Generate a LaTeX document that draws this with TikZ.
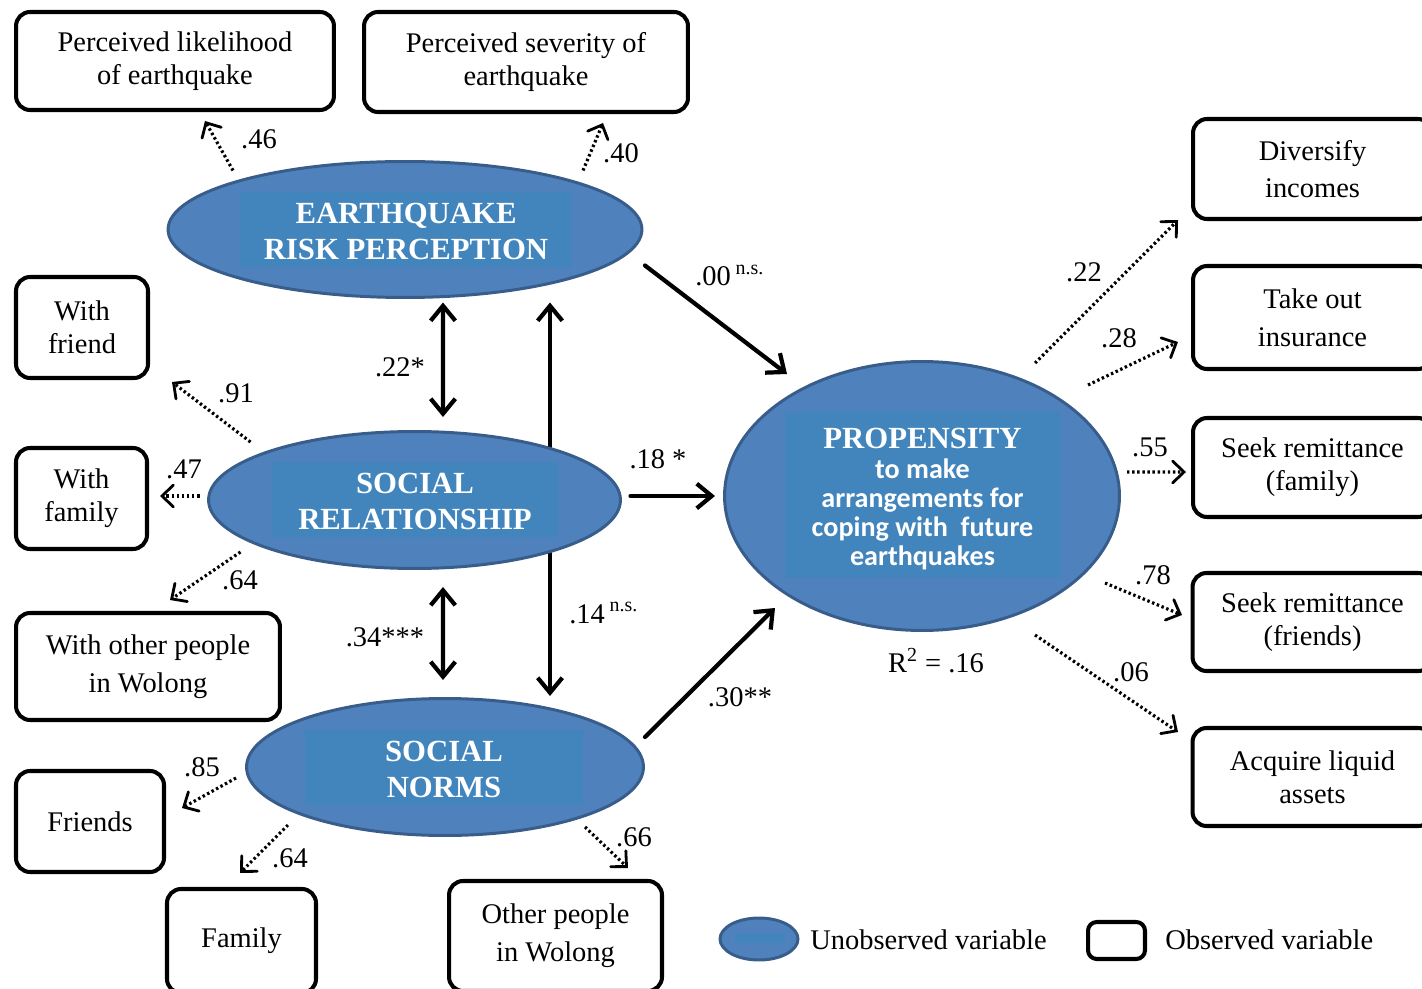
\documentclass[tikz,border=0pt]{standalone}
\usepackage{fontspec}
\setmainfont{Liberation Serif}
\newfontfamily\calfont{Carlito}
\usetikzlibrary{shapes.geometric,arrows.meta,calc}
\pgfdeclarelayer{background}
\pgfsetlayers{background,main}
\definecolor{latfill}{RGB}{79,129,189}
\definecolor{latedge}{RGB}{56,93,138}
\definecolor{latinner}{RGB}{66,133,188}
\newcommand\txt{\fontsize{16.2pt}{18.7pt}\selectfont}
\newcommand\hdr{\fontsize{17.5pt}{20.2pt}\selectfont\bfseries}
\newcommand\propfont{\calfont\bfseries\fontsize{16pt}{16.4pt}\selectfont}
\newcommand\hstrut{\rule{0pt}{14pt}}
\begin{document}
\begin{tikzpicture}[x=0.02cm,y=-0.02cm,
  obs/.style={draw, line width=2.3pt, rounded corners=8pt, align=center, font=\txt, inner sep=0pt},
  lat/.style={ellipse, draw=latedge, fill=latfill, line width=1.7pt, inner sep=0pt},
  inbox/.style={rectangle, fill=latinner, text=white, align=center, font=\hdr, inner sep=0pt},
  solidarr/.style={-{Straight Barb[length=8.5pt,width=14pt]}, line width=2.4pt, line cap=round, line join=round},
  dblarr/.style={{Straight Barb[length=8.5pt,width=14pt]}-{Straight Barb[length=8.5pt,width=14pt]}, line width=2.4pt, line cap=round, line join=round},
  dotarr/.style={-{Straight Barb[length=6.5pt,width=12.5pt,line width=1.6pt,line cap=round]}, line width=1.8pt, line cap=butt, line join=round, dash pattern=on 1.4pt off 1.5pt},
  coef/.style={font=\txt, inner sep=0pt}
]
\useasboundingbox (0,0) rectangle (1422,989);

% observed variables
\node[obs, minimum width=6.36cm, minimum height=1.96cm] (pl) at (175,61) {Perceived likelihood\\of earthquake};
\node[obs, minimum width=6.48cm, minimum height=2.00cm] (ps) at (526,62) {Perceived severity of\\earthquake};
\node[obs, minimum width=2.64cm, minimum height=2.02cm] (wf) at (82,327.5) {With\\friend};
\node[obs, minimum width=2.62cm, minimum height=2.02cm] (wfa) at (81.5,498.5) {With\\family};
\node[obs, minimum width=5.28cm, minimum height=2.14cm] (wo) at (148,666.5) {With other people\\[3pt]in Wolong};
\node[obs, minimum width=2.96cm, minimum height=2.02cm] (fr) at (90,821.5) {Friends};
\node[obs, minimum width=2.98cm, minimum height=2.08cm] (fam) at (241.5,941) {Family};
\node[obs, minimum width=4.26cm, minimum height=2.20cm] (oth) at (555.5,936) {Other people\\[3pt]in Wolong};
\node[obs, minimum width=4.78cm, minimum height=2.00cm] (div) at (1312.5,169) {Diversify\\[2pt]incomes};
\node[obs, minimum width=4.78cm, minimum height=2.06cm] (ins) at (1312.5,317.5) {Take out\\[3pt]insurance};
\node[obs, minimum width=4.78cm, minimum height=1.98cm] (sfa) at (1312.5,467.5) {Seek remittance\\(family)};
\node[obs, minimum width=4.80cm, minimum height=1.96cm] (sfr) at (1312.5,622) {Seek remittance\\(friends)};
\node[obs, minimum width=4.80cm, minimum height=1.96cm] (acq) at (1312.5,777) {Acquire liquid\\assets};

% latent variables
\node[lat, minimum width=9.48cm, minimum height=2.72cm] (erp) at (405,229.5) {};
\node[inbox, minimum width=6.64cm, minimum height=1.50cm] (erpt) at (406,229.5) {\hstrut EARTHQUAKE\\RISK PERCEPTION};
\node[lat, minimum width=8.24cm, minimum height=2.74cm] (sr) at (414.5,500) {};
\node[inbox, minimum width=5.72cm, minimum height=1.50cm] (srt) at (415,499.5) {\hstrut SOCIAL\\RELATIONSHIP};
\node[lat, minimum width=7.94cm, minimum height=2.74cm] (sn) at (445,767) {};
\node[inbox, minimum width=5.56cm, minimum height=1.50cm] (snt) at (444,767.5) {\hstrut SOCIAL\\NORMS};
\node[lat, minimum width=7.90cm, minimum height=5.38cm] (prop) at (922,496) {};
\node[inbox, minimum width=5.50cm, minimum height=3.32cm, font=\propfont] (propt) at (922.5,495)
  {{\rmfamily\hdr\rule{0pt}{16pt}PROPENSITY}\\[1pt]to make\\arrangements for\\coping with\ \ future\\earthquakes};

% connectors
\begin{pgfonlayer}{background}
\draw[solidarr] ($(erp.center)+(240,36)$) -- ($(prop.center)+(-135,-122)$);
\draw[dblarr] ($(erp.center)+(38,73)$) -- ($(sr.center)+(28.5,-83)$);
\draw[dblarr] ($(erp.center)+(145,73)$) -- ($(sn.center)+(105,-71)$);
\draw[dblarr] ($(sr.center)+(28.5,87)$) -- ($(sn.center)+(-2,-87)$);
\draw[solidarr] ($(sr.center)+(216,-4)$) -- ($(prop.center)+(-207,0)$);
\draw[solidarr] ($(sn.center)+(200,-30)$) -- ($(prop.center)+(-147,112)$);

\draw[dotarr] ($(erp.center)+(-172,-59)$) -- ($(pl.center)+(30,60)$);
\draw[dotarr] ($(erp.center)+(178,-59)$) -- ($(ps.center)+(77,61)$);
\draw[dotarr] ($(sr.center)+(-164,-58)$) -- ($(wf.center)+(90,54.5)$);
\draw[dotarr] ($(sr.center)+(-215,-4)$) -- ($(wfa.center)+(78.5,-2.5)$);
\draw[dotarr] ($(sr.center)+(-174,52)$) -- ($(wo.center)+(22,-66.5)$);
\draw[dotarr] ($(sn.center)+(-209,11)$) -- ($(fr.center)+(92,-13.5)$);
\draw[dotarr] ($(sn.center)+(-157,58)$) -- ($(fam.center)+(-1.5,-68)$);
\draw[dotarr] ($(sn.center)+(140,60)$) -- ($(oth.center)+(72.5,-68)$);
\draw[dotarr] ($(prop.center)+(113,-133)$) -- ($(div.center)+(-134.5,51)$);
\draw[dotarr] ($(prop.center)+(166,-111)$) -- ($(ins.center)+(-134.5,24.5)$);
\draw[dotarr] ($(prop.center)+(205,-24)$) -- ($(sfa.center)+(-126.5,4.5)$);
\draw[dotarr] ($(prop.center)+(183,87)$) -- ($(sfr.center)+(-130.5,-7)$);
\draw[dotarr] ($(prop.center)+(113,139)$) -- ($(acq.center)+(-134.5,-45)$);
\end{pgfonlayer}

% coefficients
\node[coef] (c1) at (259,139) {.46};
\node[coef] (c2) at (621,153) {.40};
\node[coef, anchor=base west] (c3) at (695,286) {.00\,\textsuperscript{n.s.}};
\node[coef] (c4) at (400,367) {.22*};
\node[coef] (c5) at (658,459) {.18 *};
\node[coef] (c6) at (385,637) {.34***};
\node[coef, anchor=base west] (c7) at (569,623) {.14\,\textsuperscript{n.s.}};
\node[coef] (c8) at (740,697) {.30**};
\node[coef] (c9) at (236,393) {.91};
\node[coef] (c10) at (184,469) {.47};
\node[coef] (c11) at (240,580) {.64};
\node[coef] (c12) at (202,767) {.85};
\node[coef] (c13) at (290,858) {.64};
\node[coef] (c14) at (634,837) {.66};
\node[coef] (c15) at (1084,272) {.22};
\node[coef] (c16) at (1119,338) {.28};
\node[coef] (c17) at (1150,447) {.55};
\node[coef] (c18) at (1153,575) {.78};
\node[coef] (c19) at (1131,672) {.06};
\node[coef] (r2) at (936,661) {R\textsuperscript{2} = .16};

% legend
\node[lat, minimum width=1.56cm, minimum height=0.84cm] (legE) at (759,939) {};
\node[inbox, minimum width=1.0cm, minimum height=0.18cm] (legEi) at (760,938.5) {};
\node[coef, anchor=west] (legEt) at (810,940) {Unobserved variable};
\node[draw, line width=2.3pt, rounded corners=5pt, minimum width=1.14cm, minimum height=0.74cm] (legB) at (1116.5,940.5) {};
\node[coef, anchor=west] (legBt) at (1165,940) {Observed variable};
\end{tikzpicture}
\end{document}
